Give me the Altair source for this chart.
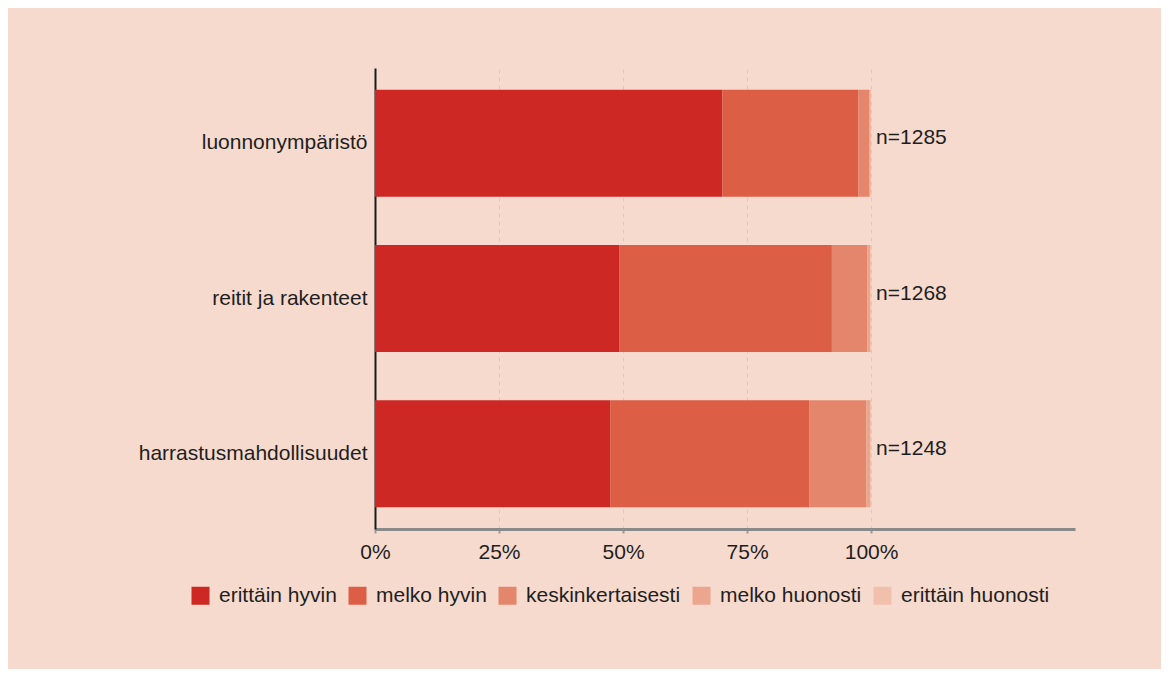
import altair as alt
import pandas as pd

categories = ["luonnonympäristö", "reitit ja rakenteet", "harrastusmahdollisuudet"]
responses = ["erittäin hyvin", "melko hyvin", "keskinkertaisesti", "melko huonosti", "erittäin huonosti"]
colors = ["#CD2823", "#DC5E45", "#E4866B", "#EBA68D", "#F0C0AD"]

erittain_hyvin = [70.0, 49.2, 47.4]
melko_hyvin = [27.4, 42.9, 40.1]
keskinkertaisesti = [2.2, 7.1, 11.5]
melko_huonosti = [0.3, 0.6, 0.8]
erittain_huonosti = [0.1, 0.2, 0.2]
n_values = [1285, 1268, 1248]

series = [erittain_hyvin, melko_hyvin, keskinkertaisesti, melko_huonosti, erittain_huonosti]
rows = []
for ri, (resp, vals) in enumerate(zip(responses, series)):
    for ci, cat in enumerate(categories):
        rows.append({"kohde": cat, "vastaus": resp, "osuus": vals[ci] / 100.0, "jarj": ri})
df = pd.DataFrame(rows)

ndf = pd.DataFrame({"kohde": categories, "x": [1.0] * 3, "n": [f"n={v}" for v in n_values]})

FONT = "Liberation Sans"
TXT = "#1e1e1e"
FS = 21

yenc = alt.Y("kohde:N", sort=categories, title=None,
             scale=alt.Scale(paddingInner=0.31, paddingOuter=0.14),
             axis=alt.Axis(ticks=False, labelFontSize=FS, labelColor=TXT, labelFont=FONT,
                           labelPadding=8, domainColor="#1a1a1a", domainWidth=2, grid=False,
                           labelLimit=400))

bars = alt.Chart(df).mark_bar().encode(
    x=alt.X("osuus:Q", stack="zero", title=None,
            scale=alt.Scale(domain=[0, 1.411], nice=False, zero=True),
            axis=alt.Axis(values=[0, 0.25, 0.5, 0.75, 1.0], format=".0%", labelFlush=False,
                          labelFontSize=FS, labelColor=TXT, labelFont=FONT, labelPadding=8,
                          domainColor="#8a8a8a", domainWidth=3,
                          tickColor="#9a9a9a", tickWidth=2, tickSize=4,
                          grid=True, gridColor="#cfcccb", gridDash=[4, 4], gridWidth=1)),
    y=yenc,
    color=alt.Color("vastaus:N", sort=responses,
                    scale=alt.Scale(domain=responses, range=colors),
                    legend=alt.Legend(title=None, orient="none", legendX=-185, legendY=517,
                                      direction="horizontal", columns=5,
                                      symbolType="square", symbolSize=324, symbolStrokeWidth=0,
                                      labelFontSize=FS, labelFont=FONT, labelColor=TXT,
                                      labelOffset=8, columnPadding=10, labelLimit=400, padding=0)),
    order=alt.Order("jarj:Q", sort="ascending"),
)

labels = alt.Chart(ndf).mark_text(align="left", baseline="middle", dx=5, dy=-5,
                                  fontSize=FS, font=FONT, color=TXT).encode(
    x=alt.X("x:Q"),
    y=alt.Y("kohde:N", sort=categories),
    text="n:N",
)

chart = alt.layer(bars, labels).properties(
    width=700, height=461,
    autosize=alt.AutoSizeParams(type="none"),
    padding={"left": 367, "top": 60, "right": 86, "bottom": 140},
    background="#F6DACE",
).configure_view(stroke=None)

chart.save("out.html", embed_options={"renderer": "svg", "actions": False})
